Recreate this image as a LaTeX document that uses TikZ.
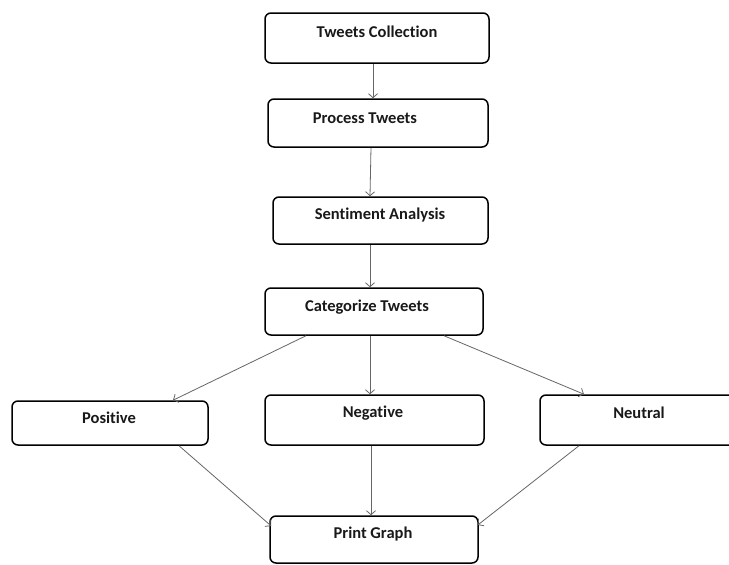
\documentclass[tikz,border=0pt]{standalone}
\usepackage{fontspec}
\setmainfont{Carlito}[Ligatures=NoCommon]
\usetikzlibrary{arrows.meta,calc}
\tikzset{
  box/.style={draw=black, line width=1.5pt, rounded corners=6pt, rectangle, inner sep=0pt, fill=white},
  txt/.style={font=\fontsize{16.5}{18}\selectfont\bfseries, inner sep=0pt, text=black!90},
  conn/.style={draw=black!60, line width=0.8pt, -{Straight Barb[length=4pt,width=9pt]}}
}
\begin{document}
\begin{tikzpicture}[x=1pt,y=-1pt]
\useasboundingbox[fill=white] (0,0) rectangle (729,565);
% boxes
\node[box, minimum width=224pt, minimum height=50pt] (tc) at (377,38) {};
\node[box, minimum width=220pt, minimum height=48pt] (pt) at (378,123) {};
\node[box, minimum width=215pt, minimum height=47pt] (sa) at (380.5,220.5) {};
\node[box, minimum width=218pt, minimum height=47pt] (ct) at (374,311.5) {};
\node[box, minimum width=196pt, minimum height=44pt] (pos) at (110,423) {};
\node[box, minimum width=219pt, minimum height=50pt] (neg) at (374.5,420) {};
\node[box, minimum width=215pt, minimum height=50pt] (neu) at (647.5,420) {};
\node[box, minimum width=208pt, minimum height=47pt] (pg) at (374,539.5) {};
% texts
\node[txt] (tct) at (377,32) {Tweets Collection};
\node[txt] (ptt) at (365,118) {Process Tweets};
\node[txt] (sat) at (380,215) {Sentiment Analysis};
\node[txt] (ctt) at (367,307) {Categorize Tweets};
\node[txt] (post) at (109,418) {Positive};
\node[txt] (negt) at (373,413) {Negative};
\node[txt] (neut) at (639,413) {Neutral};
\node[txt] (pgt) at (373,534) {Print Graph};
% connectors
\draw[conn] ($(tc.south)+(-4,0)$) -- ($(pt.north)+(-5,0)$);
\draw[conn] ($(pt.south)+(-7,0)$) -- ($(sa.north)+(-10.5,0)$);
\draw[conn] ($(sa.south)+(-10.5,0)$) -- ($(ct.north)+(-4,0)$);
\draw[conn] ($(ct.south)+(-68,0)$) -- ($(pos.north)+(63,0)$);
\draw[conn] ($(ct.south)+(-4,0)$) -- ($(neg.north)+(-4.5,0)$);
\draw[conn] ($(ct.south)+(70,0)$) -- ($(neu.north)+(-63.5,0)$);
\draw[conn] ($(pos.south)+(69,0)$) -- ($(pg.west)+(2,-13.5)$);
\draw[conn] ($(neg.south)+(-3.5,0)$) -- ($(pg.north)+(-3,0)$);
\draw[conn] ($(neu.south)+(-68.5,0)$) -- ($(pg.east)+(-1,-14.5)$);
\end{tikzpicture}
\end{document}
